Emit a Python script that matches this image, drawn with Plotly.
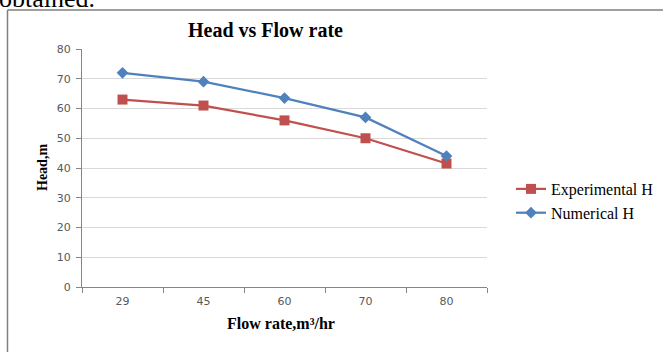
import plotly.graph_objects as go

categories = ["29", "45", "60", "70", "80"]
experimental_h = [63, 61, 56, 50, 41.5]
numerical_h = [72, 69, 63.5, 57, 44]
y_ticks = [0, 10, 20, 30, 40, 50, 60, 70, 80]

W, H = 663, 352
L, R, T, B = 82, 487, 49, 287

def px(x):
    return (x - L) / (R - L)

def py(y):
    return (B - y) / (B - T)

fig = go.Figure()
fig.add_trace(go.Scatter(
    x=categories, y=experimental_h, name="Experimental H", mode="lines+markers",
    line=dict(color="#C0504D", width=2.25),
    marker=dict(symbol="square", size=10, color="#C0504D"),
))
fig.add_trace(go.Scatter(
    x=categories, y=numerical_h, name="Numerical H", mode="lines+markers",
    line=dict(color="#4F81BD", width=2.25),
    marker=dict(symbol="diamond", size=9, color="#4F81BD"),
))

serif = "Liberation Serif"
fig.update_layout(
    width=W, height=H,
    margin=dict(l=L, r=W - R, t=T, b=H - B, pad=0, autoexpand=False),
    paper_bgcolor="white", plot_bgcolor="white",
    showlegend=True,
    legend=dict(
        x=px(511), y=py(172), xanchor="left", yanchor="top",
        font=dict(family=serif, size=16, color="#000000"),
        bgcolor="rgba(0,0,0,0)", itemwidth=30, tracegroupgap=0,
    ),
    xaxis=dict(
        type="category", tickson="boundaries", ticks="outside", ticklen=5,
        tickcolor="#868686", showline=True, linecolor="#868686", linewidth=1,
        showgrid=False, range=[-0.5, 4.5], ticklabelstandoff=4,
        tickfont=dict(family="DejaVu Sans", size=11, color="#595959"),
        fixedrange=True,
    ),
    yaxis=dict(
        range=[0, 80], tickvals=y_ticks, ticks="outside", ticklen=5,
        tickcolor="#868686", showline=True, linecolor="#868686", linewidth=1,
        showgrid=True, gridcolor="#D9D9D9", gridwidth=1, zeroline=False,
        ticklabelstandoff=3,
        tickfont=dict(family="DejaVu Sans", size=11, color="#595959"),
        fixedrange=True,
    ),
)

fig.add_annotation(text="<b>Head vs Flow rate</b>", xref="paper", yref="paper",
                   x=px(265), y=py(30), xanchor="center", yanchor="middle",
                   showarrow=False, font=dict(family=serif, size=20, color="#000000"))
fig.add_annotation(text="<b>Head,m</b>", xref="paper", yref="paper",
                   x=px(42), y=py(168), xanchor="center", yanchor="middle",
                   textangle=-90, showarrow=False,
                   font=dict(family=serif, size=14, color="#000000"))
fig.add_annotation(text="<b>Flow rate,m³/hr</b>", xref="paper", yref="paper",
                   x=px(281), y=py(323), xanchor="center", yanchor="middle",
                   showarrow=False, font=dict(family=serif, size=16, color="#000000"))
fig.add_annotation(text="obtained.", xref="paper", yref="paper",
                   x=px(-3), y=py(-2), xanchor="left", yanchor="middle",
                   showarrow=False, font=dict(family=serif, size=26, color="#000000"))

# chart frame (left and top edges visible)
fig.add_shape(type="line", xref="paper", yref="paper",
              x0=px(7.5), x1=px(7.5), y0=py(10), y1=py(360),
              line=dict(color="#7F7F7F", width=1.5))
fig.add_shape(type="line", xref="paper", yref="paper",
              x0=px(7.5), x1=px(670), y0=py(10), y1=py(10),
              line=dict(color="#7F7F7F", width=1.5))

fig.write_html("out.html")
